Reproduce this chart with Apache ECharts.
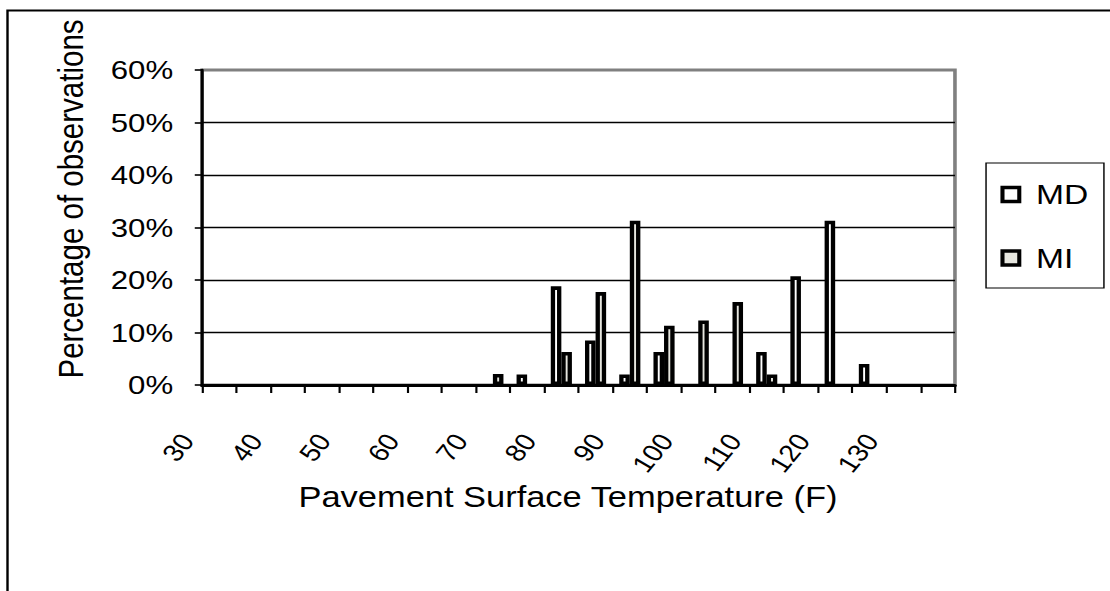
<!DOCTYPE html>
<html>
<head>
<meta charset="utf-8">
<script src="https://cdn.jsdelivr.net/npm/echarts@6/dist/echarts.min.js"></script>
<style>
html, body { margin: 0; padding: 0; background: #fff; overflow: hidden; width: 1110px; height: 591px; }
#c { width: 925px; height: 591px; transform: scaleX(1.2); transform-origin: 0 0; }
</style>
</head>
<body>
<div id="c"></div>
<script>
// Temperature bins (F)
const categories = ['30','35','40','45','50','55','60','65','70','75','80','85','90','95','100','105','110','115','120','125','130','135'];
// Percentage of observations, MD
const mdValues = [null, null, null, null, null, null, null, null, null, 2.0, 18.8, 8.5, 2.0, 6.3, null, null, 6.3, 20.7, 31.3, 4.0, null, null];
// Percentage of observations, MI
const miValues = [null, null, null, null, null, null, null, null, 2.1, null, 6.3, 17.7, 31.3, 11.3, 12.3, 15.8, 2.0, null, null, null, null, null];
const seriesNames = ['MD', 'MI'];
const yAxisTitle = 'Percentage of observations';
const xAxisTitle = 'Pavement Surface Temperature (F)';

const FONT = "'Liberation Sans', Arial, sans-serif";
const chart = echarts.init(document.getElementById('c'), null, { renderer: 'svg' });

chart.setOption({
  animation: false,
  backgroundColor: '#fff',
  textStyle: { fontFamily: FONT, color: '#000' },
  grid: {
    left: 168.3, right: 129.2, top: 70, bottom: 206,
    show: true, borderColor: '#808080', borderWidth: 3, backgroundColor: 'transparent'
  },
  legend: {
    data: seriesNames,
    orient: 'vertical',
    left: 821.7, top: 163,
    padding: [17.5, 13, 16, 12],
    borderColor: '#000', borderWidth: 1.2,
    itemWidth: 14, itemHeight: 14, itemGap: 35.5,
    icon: 'rect',
    itemStyle: { borderColor: '#000', borderWidth: 3.4 },
    textStyle: { fontSize: 28, fontFamily: FONT, color: '#000', padding: [0, 0, 0, 9], lineHeight: 28 }
  },
  xAxis: {
    type: 'category',
    data: categories,
    boundaryGap: true,
    axisLine: { show: true, lineStyle: { color: '#000', width: 3 } },
    axisTick: { show: true, interval: 0, length: 8, lineStyle: { color: '#000', width: 1.8 } },
    axisLabel: { interval: 1, rotate: 55, margin: 14, padding: [0, 46, 0, 0], fontSize: 24, fontFamily: FONT, color: '#000' },
    splitLine: { show: false }
  },
  yAxis: {
    type: 'value',
    min: 0, max: 60, interval: 10,
    axisLine: { show: true, lineStyle: { color: '#000', width: 2.5 } },
    axisTick: { show: true, length: 6, lineStyle: { color: '#000', width: 1.6 } },
    axisLabel: { formatter: '{value}%', fontSize: 26, fontFamily: FONT, margin: 24, color: '#000' },
    splitLine: { show: true, showMinLine: false, showMaxLine: false, lineStyle: { color: '#000', width: 1.4 } }
  },
  series: [
    {
      name: seriesNames[0], type: 'bar', data: mdValues,
      barWidth: 8.8, barGap: '0%',
      itemStyle: { color: '#ffffff', borderColor: '#000', borderWidth: 3.6 }
    },
    {
      name: seriesNames[1], type: 'bar', data: miValues,
      barWidth: 8.8, barGap: '0%',
      itemStyle: { color: '#e6e6df', borderColor: '#000', borderWidth: 3.6 }
    }
  ],
  graphic: [
    {
      type: 'rect', silent: true,
      shape: { x: 6.25, y: 10.5, width: 2000, height: 2000 },
      style: { fill: 'none', stroke: '#000', lineWidth: 2 }
    },
    {
      type: 'text', silent: true,
      x: 59, y: 199, rotation: Math.PI / 2,
      style: { text: yAxisTitle, font: "29.5px 'Liberation Sans', Arial, sans-serif", fill: '#000', align: 'center', verticalAlign: 'middle' }
    },
    {
      type: 'text', silent: true,
      x: 473.3, y: 497,
      style: { text: xAxisTitle, font: "28.7px 'Liberation Sans', Arial, sans-serif", fill: '#000', align: 'center', verticalAlign: 'middle' }
    }
  ]
});
</script>
</body>
</html>
